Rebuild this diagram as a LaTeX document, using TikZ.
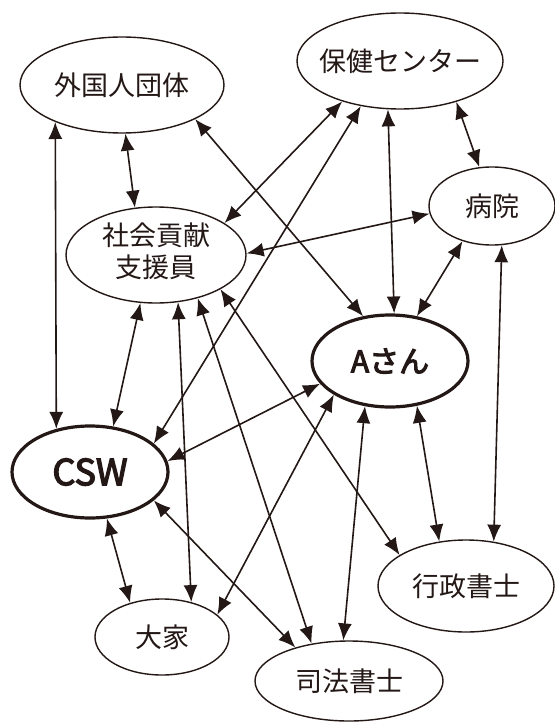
\documentclass[tikz,border=0pt]{standalone}
\usepackage{fontspec}
\setmainfont{Noto Sans CJK JP}
\newfontfamily\medjp{Noto Sans CJK JP}[FakeBold=3.5]
\usetikzlibrary{shapes.geometric,arrows.meta}
\definecolor{ink}{HTML}{231815}
\begin{document}
\begin{tikzpicture}[x=1pt,y=-1pt,
  el/.style={ellipse,draw=ink,line width=1.4pt,inner sep=0pt,text=ink,
    font=\fontsize{27}{32}\selectfont},
  elthick/.style={el,line width=3.2pt},
  link/.style={draw=ink,line width=1.6pt,
    {Latex[length=17pt,width=14pt]}-{Latex[length=17pt,width=14pt]}}]
\useasboundingbox[fill=white] (0,0) rectangle (554,722);

\node[el,minimum width=204pt,minimum height=96pt] (gaikoku) at (122,85) {\makebox[0pt]{外国人団体}};
\node[el,minimum width=206pt,minimum height=96pt] (hoken) at (400,61) {\makebox[0pt]{保健センター}};
\node[el,minimum width=126pt,minimum height=78pt] (byoin) at (492,206) {\makebox[0pt]{病院}};
\node[el,minimum width=180pt,minimum height=96pt] (shakai) at (156,255) {\makebox[0pt]{\begin{tabular}{@{}c@{}}社会貢献\\支援員\end{tabular}}};
\node[elthick,minimum width=156pt,minimum height=92pt,font=\medjp\fontsize{30}{34}\selectfont] (asan) at (390,361) {\makebox[0pt]{Aさん}};
\node[elthick,minimum width=156pt,minimum height=92pt,font=\medjp\fontsize{36}{40}\selectfont] (csw) at (90,472) {\makebox[0pt]{CSW}};
\node[el,minimum width=134pt,minimum height=76pt] (ooya) at (162,637) {\makebox[0pt]{大家}};
\node[el,minimum width=188pt,minimum height=80pt] (shiho) at (349,681) {\makebox[0pt]{司法書士}};
\node[el,minimum width=176pt,minimum height=92pt] (gyosei) at (466,586) {\makebox[0pt]{行政書士}};

\draw[link] (gaikoku.209.6) -- (csw.128.4);
\draw[link] (gaikoku.-86.6) -- (shakai.114.7);
\draw[link] (gaikoku.-25.4) -- (asan.121.3);
\draw[link] (hoken.-145.5) -- (shakai.25.2);
\draw[link] (hoken.-131) -- (csw.24.3);
\draw[link] (hoken.-104.3) -- (asan.85);
\draw[link] (hoken.-36.9) -- (byoin.108.9);
\draw[link] (byoin.-173.8) -- (shakai.1);
\draw[link] (byoin.-130.7) -- (asan.59.6);
\draw[link] (byoin.-76) -- (gyosei.58.7);
\draw[link] (shakai.-108.8) -- (csw.63.9);
\draw[link] (shakai.-65.8) -- (ooya.50);
\draw[link] (shakai.-46.9) -- (shiho.135.7);
\draw[link] (shakai.-28.9) -- (gyosei.155.5);
\draw[link] (asan.-162.5) -- (csw.8.4);
\draw[link] (asan.-149.5) -- (ooya.22.3);
\draw[link] (asan.-119.5) -- (shiho.98.5);
\draw[link] (asan.-59.6) -- (gyosei.121.9);
\draw[link] (csw.-70.8) -- (ooya.133.4);
\draw[link] (csw.-24.8) -- (shiho.148.9);
\end{tikzpicture}
\end{document}
